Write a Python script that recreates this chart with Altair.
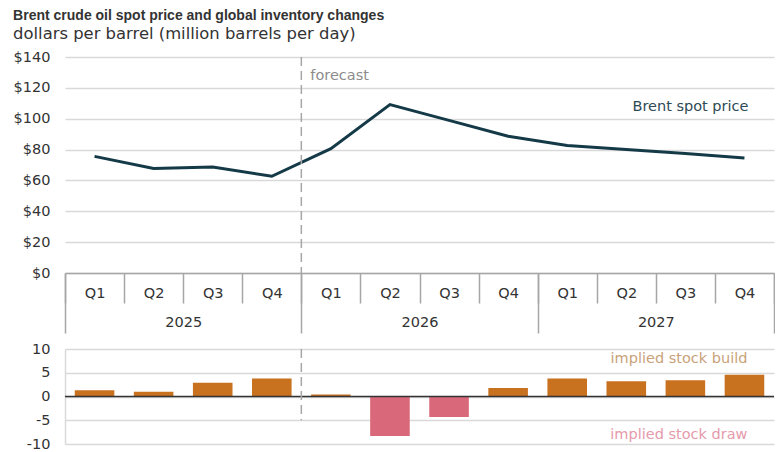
import altair as alt
import pandas as pd

TITLE_FONT = "Liberation Sans"
FONT = "DejaVu Sans"
FS = 14.5

years = ["2025", "2026", "2027"]
quarters = ["Q1", "Q2", "Q3", "Q4"]
keys = [f"{y} {q}" for y in years for q in quarters]

brent_price = [75.6, 67.7, 68.7, 62.7, 80.6, 109.2, 98.9, 88.6, 82.7, 80.0, 77.4, 74.5]
stock_change = [1.3, 1.0, 2.9, 3.8, 0.4, -8.3, -4.3, 1.8, 3.8, 3.2, 3.4, 4.6]

forecast_start = "2026 Q1"

price_df = pd.DataFrame({"q": keys, "price": brent_price})
stock_df = pd.DataFrame({"q": keys, "stock": stock_change})
year_df = pd.DataFrame({"year": years})

LINE_C = "#153a47"
BUILD_C = "#c8711f"
DRAW_C = "#d9687a"
GRID_C = "#d9d9d9"
AXIS_C = "#a6a6a6"
TEXT_C = "#333333"

W = 709
H_TOP = 216
H_BOT = 95


def qscale():
    return alt.Scale(type="band", domain=keys, paddingInner=0, paddingOuter=0)


def xq(axis=None, band=None):
    kw = {}
    if band is not None:
        kw["bandPosition"] = band
    return alt.X("q:N", scale=qscale(), axis=axis, **kw)


quarter_axis = alt.Axis(
    orient="bottom", title=None, labelAngle=0,
    labelExpr="split(datum.label, ' ')[1]",
    tickBand="extent", tickSize=30, tickColor=AXIS_C, tickWidth=1.5,
    domainColor=AXIS_C, domainWidth=1.5, grid=False, labelOverlap=False,
    labelPadding=-17, labelFontSize=FS, labelColor=TEXT_C, labelFont=FONT,
)

year_axis = alt.Axis(
    orient="bottom", title=None, labelAngle=0,
    tickBand="extent", tickSize=60, tickColor=AXIS_C, tickWidth=1.5,
    domain=False, grid=False, labelOverlap=False,
    labelPadding=-18, labelFontSize=FS, labelColor=TEXT_C, labelFont=FONT,
)

top_scale = alt.Scale(domain=[0, 140], nice=False)
top_axis = alt.Axis(
    title=None, values=list(range(0, 141, 20)), labelExpr="'$' + datum.value",
    grid=True, gridColor=GRID_C, gridWidth=1.5, domain=False, ticks=False,
    labelOverlap=False,
    labelPadding=15, labelFontSize=FS, labelColor=TEXT_C, labelFont=FONT,
)


def yt(field):
    return alt.Y(f"{field}:Q", scale=top_scale, axis=top_axis, title=None)


line = alt.Chart(price_df).mark_line(color=LINE_C, strokeWidth=3).encode(
    x=xq(quarter_axis), y=yt("price")
)

fc_df = pd.DataFrame({"q": [forecast_start], "top": [140], "bottom": [0],
                      "label": ["forecast"], "ly": [127.5]})

fc_rule = alt.Chart(fc_df).mark_rule(color=AXIS_C, strokeWidth=1.5, strokeDash=[9, 5]).encode(
    x=xq(band=0), y=yt("top"), y2="bottom:Q"
)

fc_text = alt.Chart(fc_df).mark_text(
    align="left", baseline="middle", dx=9, fontSize=FS, color="#8c8c8c", font=FONT
).encode(x=xq(band=0), y=yt("ly"), text="label:N")

brent_lbl_df = pd.DataFrame({"q": ["2027 Q4"], "y": [107.5], "label": ["Brent spot price"]})
brent_text = alt.Chart(brent_lbl_df).mark_text(
    align="right", baseline="middle", dx=4, fontSize=FS, color="#2e4a55", font=FONT
).encode(x=xq(), y=yt("y"), text="label:N")

year_layer = alt.Chart(year_df).mark_point(opacity=0).encode(
    x=alt.X("year:N", scale=alt.Scale(type="band", domain=years, paddingInner=0, paddingOuter=0),
            axis=year_axis)
)

top = alt.layer(line, fc_rule, fc_text, brent_text, year_layer).resolve_scale(
    x="independent"
).properties(width=W, height=H_TOP)

# bottom panel
y_bot_scale = alt.Scale(domain=[-10, 10], nice=False)
bot_axis = alt.Axis(
    title=None, values=[-10, -5, 0, 5, 10],
    labelExpr="datum.value < 0 ? '-' + abs(datum.value) : '' + datum.value",
    grid=True, gridColor=GRID_C, gridWidth=1.5, labelOverlap=False,
    domain=True, domainColor=GRID_C, domainWidth=1.5, ticks=False, labelPadding=15,
    labelFontSize=FS, labelColor=TEXT_C, labelFont=FONT,
)


def yb(field):
    return alt.Y(f"{field}:Q", scale=y_bot_scale, axis=bot_axis, title=None)


bars = alt.Chart(stock_df).mark_bar(width=alt.RelativeBandSize(0.67)).encode(
    x=xq(),
    y=yb("stock"),
    y2=alt.datum(0),
    color=alt.condition("datum.stock >= 0", alt.value(BUILD_C), alt.value(DRAW_C)),
)

zero_df = pd.DataFrame({"z": [0]})
zero_rule = alt.Chart(zero_df).mark_rule(color="#333333", strokeWidth=1.5).encode(
    y=yb("z")
)

fc_bot_df = pd.DataFrame({"q": [forecast_start], "top": [10], "bottom": [-5]})
fc_bot = alt.Chart(fc_bot_df).mark_rule(color=AXIS_C, strokeWidth=1.5, strokeDash=[9, 5]).encode(
    x=xq(band=0), y=yb("top"), y2="bottom:Q"
)

stock_lbl_df = pd.DataFrame({
    "q": ["2027 Q4", "2027 Q4"],
    "y": [8.0, -8.2],
    "label": ["implied stock build", "implied stock draw"],
    "kind": ["build", "draw"],
})
stock_text = alt.Chart(stock_lbl_df).mark_text(
    align="right", baseline="middle", dx=3, fontSize=FS, font=FONT
).encode(
    x=xq(), y=yb("y"), text="label:N",
    color=alt.condition("datum.kind == 'build'", alt.value("#c9a27a"), alt.value("#e59aab")),
)

bottom = alt.layer(bars, zero_rule, fc_bot, stock_text).properties(width=W, height=H_BOT)

chart = alt.vconcat(top, bottom, spacing=7).properties(
    title=alt.TitleParams(
        text="Brent crude oil spot price and global inventory changes",
        subtitle="dollars per barrel (million barrels per day)",
        anchor="start", fontSize=14, fontWeight="bold", color=TEXT_C, font=TITLE_FONT,
        subtitleFontSize=16.4, subtitleColor=TEXT_C, subtitleFont=FONT, subtitlePadding=3,
        offset=7,
    ),
    padding={"left": 13, "top": 8, "right": 0, "bottom": 0},
    background="white",
).configure_view(stroke=None)

chart.save("out.html", embed_options={"renderer": "svg", "actions": False})
